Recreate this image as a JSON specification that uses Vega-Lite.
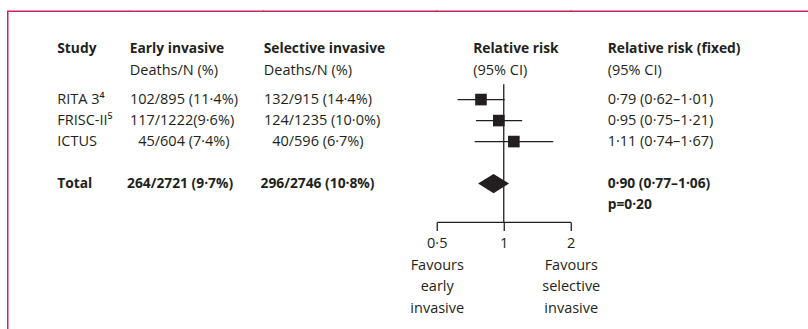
{
  "$schema": "https://vega.github.io/schema/vega-lite/v6.json",
  "background": "white",
  "padding": {"left": 5.75, "top": 9.25, "right": 0, "bottom": 0},
  "spacing": 0,
  "bounds": "flush",
  "config": {
    "view": {"stroke": null},
    "text": {"font": "Open Sans", "fontSize": 14.5, "color": "#231f20", "align": "left", "baseline": "middle"},
    "axis": {
      "grid": false,
      "domainColor": "#231f20",
      "domainWidth": 1.3,
      "tickColor": "#231f20",
      "tickWidth": 1.3,
      "tickSize": 8.5,
      "labelFont": "Open Sans",
      "labelFontSize": 14.5,
      "labelColor": "#231f20",
      "labelPadding": 6,
      "labelLineHeight": 21.7,
      "labelFlush": false,
      "labelOverlap": false
    }
  },
  "datasets": {
    "trials": [
      {"row": 0, "kind": "study", "study": "RITA 3⁴", "early_deaths": "102", "early_n": "/895 (11·4%)", "sel_deaths": "132", "sel_n": "/915 (14·4%)", "rr": 0.79, "lo": 0.62, "hi": 1.01, "ci": "0·79 (0·62–1·01)"},
      {"row": 1, "kind": "study", "study": "FRISC-II⁵", "early_deaths": "117", "early_n": "/1222(9·6%)", "sel_deaths": "124", "sel_n": "/1235 (10·0%)", "rr": 0.95, "lo": 0.75, "hi": 1.21, "ci": "0·95 (0·75–1·21)"},
      {"row": 2, "kind": "study", "study": "ICTUS", "early_deaths": "45", "early_n": "/604 (7·4%)", "sel_deaths": "40", "sel_n": "/596 (6·7%)", "rr": 1.11, "lo": 0.74, "hi": 1.67, "ci": "1·11 (0·74–1·67)"},
      {"row": 4, "kind": "total", "study": "Total", "early_deaths": "264", "early_n": "/2721 (9·7%)", "sel_deaths": "296", "sel_n": "/2746 (10·8%)", "rr": 0.90, "lo": 0.77, "hi": 1.06, "ci": "0·90 (0·77–1·06)", "p": "p=0·20"}
    ],
    "headers": [
      {"col": "study", "h": "Study", "s": ""},
      {"col": "early", "h": "Early invasive", "s": "Deaths/N (%)"},
      {"col": "selective", "h": "Selective invasive", "s": "Deaths/N (%)"},
      {"col": "forest", "h": "Relative risk", "s": "(95% CI)"},
      {"col": "rr", "h": "Relative risk (fixed)", "s": "(95% CI)"}
    ]
  },
  "hconcat": [
    {
      "width": 121.5,
      "height": 318,
      "view": {"stroke": "#d4215a", "strokeWidth": 1.5, "strokeCap": "square", "strokeDash": [121.5, 439.5, 318], "fill": null},
      "layer": [
        {
          "data": {"name": "headers"},
          "transform": [{"filter": "datum.col == 'study'"}],
          "mark": {"type": "text", "fontWeight": "bold", "fontSize": 13.8, "dx": 49.5},
          "encoding": {"x": {"value": 0}, "y": {"datum": -2.43, "type": "quantitative", "scale": {"domain": [-4.205, 10.938], "reverse": true, "nice": false, "zero": false}, "axis": null}, "text": {"field": "h"}}
        },
        {
          "data": {"name": "trials"},
          "transform": [{"filter": "datum.kind == 'study'"}],
          "mark": {"type": "text", "dx": 49.5},
          "encoding": {"x": {"value": 0}, "y": {"field": "row", "type": "quantitative"}, "text": {"field": "study"}}
        },
        {
          "data": {"name": "trials"},
          "transform": [{"filter": "datum.kind == 'total'"}],
          "mark": {"type": "text", "dx": 49.5, "fontWeight": "bold", "fontSize": 13.8},
          "encoding": {"x": {"value": 0}, "y": {"field": "row", "type": "quantitative"}, "text": {"field": "study"}}
        }
      ]
    },
    {
      "width": 133.5,
      "height": 318,
      "view": {"stroke": "#d4215a", "strokeWidth": 1.5, "strokeCap": "square", "strokeDash": [133.5, 3000], "fill": null},
      "layer": [
        {
          "data": {"name": "headers"},
          "transform": [{"filter": "datum.col == 'early'"}],
          "mark": {"type": "text", "fontWeight": "bold", "fontSize": 13.8},
          "encoding": {"x": {"value": 0}, "y": {"datum": -2.43, "type": "quantitative", "scale": {"domain": [-4.205, 10.938], "reverse": true, "nice": false, "zero": false}, "axis": null}, "text": {"field": "h"}}
        },
        {
          "data": {"name": "headers"},
          "transform": [{"filter": "datum.col == 'early'"}],
          "mark": {"type": "text"},
          "encoding": {"x": {"value": 0}, "y": {"datum": -1.38, "type": "quantitative"}, "text": {"field": "s"}}
        },
        {
          "data": {"name": "trials"},
          "transform": [{"filter": "datum.kind == 'study'"}],
          "mark": {"type": "text", "align": "right", "dx": 25},
          "encoding": {"x": {"value": 0}, "y": {"field": "row", "type": "quantitative"}, "text": {"field": "early_deaths"}}
        },
        {
          "data": {"name": "trials"},
          "transform": [{"filter": "datum.kind == 'study'"}],
          "mark": {"type": "text", "dx": 25},
          "encoding": {"x": {"value": 0}, "y": {"field": "row", "type": "quantitative"}, "text": {"field": "early_n"}}
        },
        {
          "data": {"name": "trials"},
          "transform": [{"filter": "datum.kind == 'total'"}],
          "mark": {"type": "text", "fontWeight": "bold", "fontSize": 13.8, "align": "right", "dx": 21},
          "encoding": {"x": {"value": 0}, "y": {"field": "row", "type": "quantitative"}, "text": {"field": "early_deaths"}}
        },
        {
          "data": {"name": "trials"},
          "transform": [{"filter": "datum.kind == 'total'"}],
          "mark": {"type": "text", "fontWeight": "bold", "fontSize": 13.8, "dx": 21},
          "encoding": {"x": {"value": 0}, "y": {"field": "row", "type": "quantitative"}, "text": {"field": "early_n"}}
        }
      ]
    },
    {
      "width": 172.8,
      "height": 318,
      "view": {"stroke": "#d4215a", "strokeWidth": 1.5, "strokeCap": "square", "strokeDash": [172.8, 3000], "fill": null},
      "layer": [
        {
          "data": {"name": "headers"},
          "transform": [{"filter": "datum.col == 'selective'"}],
          "mark": {"type": "text", "fontWeight": "bold", "fontSize": 13.8},
          "encoding": {"x": {"value": 0}, "y": {"datum": -2.43, "type": "quantitative", "scale": {"domain": [-4.205, 10.938], "reverse": true, "nice": false, "zero": false}, "axis": null}, "text": {"field": "h"}}
        },
        {
          "data": {"name": "headers"},
          "transform": [{"filter": "datum.col == 'selective'"}],
          "mark": {"type": "text"},
          "encoding": {"x": {"value": 0}, "y": {"datum": -1.38, "type": "quantitative"}, "text": {"field": "s"}}
        },
        {
          "data": {"name": "trials"},
          "transform": [{"filter": "datum.kind == 'study'"}],
          "mark": {"type": "text", "align": "right", "dx": 25},
          "encoding": {"x": {"value": 0}, "y": {"field": "row", "type": "quantitative"}, "text": {"field": "sel_deaths"}}
        },
        {
          "data": {"name": "trials"},
          "transform": [{"filter": "datum.kind == 'study'"}],
          "mark": {"type": "text", "dx": 25},
          "encoding": {"x": {"value": 0}, "y": {"field": "row", "type": "quantitative"}, "text": {"field": "sel_n"}}
        },
        {
          "data": {"name": "trials"},
          "transform": [{"filter": "datum.kind == 'total'"}],
          "mark": {"type": "text", "fontWeight": "bold", "fontSize": 13.8, "align": "right", "dx": 20.5},
          "encoding": {"x": {"value": 0}, "y": {"field": "row", "type": "quantitative"}, "text": {"field": "sel_deaths"}}
        },
        {
          "data": {"name": "trials"},
          "transform": [{"filter": "datum.kind == 'total'"}],
          "mark": {"type": "text", "fontWeight": "bold", "fontSize": 13.8, "dx": 20.5},
          "encoding": {"x": {"value": 0}, "y": {"field": "row", "type": "quantitative"}, "text": {"field": "sel_n"}}
        }
      ]
    },
    {
      "width": 134,
      "height": 210.7,
      "view": {"stroke": "#d4215a", "strokeWidth": 1.5, "strokeCap": "square", "strokeDash": [134, 3000], "fill": null},
      "layer": [
        {
          "data": {"name": "headers"},
          "transform": [{"filter": "datum.col == 'forest'"}],
          "mark": {"type": "text", "fontWeight": "bold", "fontSize": 13.8, "dx": 36.4},
          "encoding": {"x": {"value": 0}, "y": {"datum": -2.43, "type": "quantitative", "scale": {"domain": [-4.205, 5.828], "reverse": true, "nice": false, "zero": false}, "axis": null}, "text": {"field": "h"}}
        },
        {
          "data": {"name": "headers"},
          "transform": [{"filter": "datum.col == 'forest'"}],
          "mark": {"type": "text", "dx": 36.4},
          "encoding": {"x": {"value": 0}, "y": {"datum": -1.38, "type": "quantitative"}, "text": {"field": "s"}}
        },
        {
          "data": {"name": "trials"},
          "transform": [{"filter": "datum.kind == 'study'"}],
          "mark": {"type": "rule", "color": "#231f20", "strokeWidth": 1.3},
          "encoding": {
            "x": {
              "field": "lo",
              "type": "quantitative",
              "scale": {"type": "log", "domain": [0.5, 2], "nice": false},
              "axis": {
                "title": null,
                "values": [0.5, 1, 2],
                "labelExpr": "datum.value == 0.5 ? ['0·5', 'Favours', 'early', 'invasive'] : datum.value == 2 ? ['2', 'Favours', 'selective', 'invasive'] : '1'"
              }
            },
            "x2": {"field": "hi"},
            "y": {"field": "row", "type": "quantitative"}
          }
        },
        {
          "data": {"name": "trials"},
          "transform": [{"filter": "datum.kind == 'total'"}],
          "mark": {"type": "rule", "color": "#231f20", "strokeWidth": 1.3},
          "encoding": {
            "x": {"datum": 1, "type": "quantitative"},
            "y": {"datum": -0.73, "type": "quantitative"},
            "y2": {"datum": 5.828}
          }
        },
        {
          "data": {"name": "trials"},
          "transform": [{"filter": "datum.kind == 'study'"}],
          "mark": {"type": "point", "shape": "square", "filled": true, "size": 135, "color": "#231f20", "opacity": 1},
          "encoding": {
            "x": {"field": "rr", "type": "quantitative"},
            "y": {"field": "row", "type": "quantitative"}
          }
        },
        {
          "data": {"name": "trials"},
          "transform": [{"filter": "datum.kind == 'total'"}],
          "mark": {"type": "point", "shape": "M-1,0L0,-0.62L1,0L0,0.62Z", "filled": true, "size": 961, "color": "#231f20", "opacity": 1},
          "encoding": {
            "x": {"field": "rr", "type": "quantitative"},
            "y": {"field": "row", "type": "quantitative"}
          }
        }
      ]
    },
    {
      "width": 237.7,
      "height": 318,
      "view": {"stroke": "#d4215a", "strokeWidth": 1.5, "strokeCap": "square", "strokeDash": [237.7, 3000], "fill": null},
      "layer": [
        {
          "data": {"name": "headers"},
          "transform": [{"filter": "datum.col == 'rr'"}],
          "mark": {"type": "text", "fontWeight": "bold", "fontSize": 13.8, "dx": 36.9},
          "encoding": {"x": {"value": 0}, "y": {"datum": -2.43, "type": "quantitative", "scale": {"domain": [-4.205, 10.938], "reverse": true, "nice": false, "zero": false}, "axis": null}, "text": {"field": "h"}}
        },
        {
          "data": {"name": "headers"},
          "transform": [{"filter": "datum.col == 'rr'"}],
          "mark": {"type": "text", "dx": 36.9},
          "encoding": {"x": {"value": 0}, "y": {"datum": -1.38, "type": "quantitative"}, "text": {"field": "s"}}
        },
        {
          "data": {"name": "trials"},
          "transform": [{"filter": "datum.kind == 'study'"}],
          "mark": {"type": "text", "dx": 36.9},
          "encoding": {"x": {"value": 0}, "y": {"field": "row", "type": "quantitative"}, "text": {"field": "ci"}}
        },
        {
          "data": {"name": "trials"},
          "transform": [{"filter": "datum.kind == 'total'"}],
          "mark": {"type": "text", "dx": 36.9, "fontWeight": "bold", "fontSize": 13.8},
          "encoding": {"x": {"value": 0}, "y": {"field": "row", "type": "quantitative"}, "text": {"field": "ci"}}
        },
        {
          "data": {"name": "trials"},
          "transform": [{"filter": "datum.kind == 'total'"}],
          "mark": {"type": "text", "dx": 36.9, "dy": 21, "fontWeight": "bold", "fontSize": 13.8},
          "encoding": {"x": {"value": 0}, "y": {"field": "row", "type": "quantitative"}, "text": {"field": "p"}}
        }
      ]
    }
  ]
}
